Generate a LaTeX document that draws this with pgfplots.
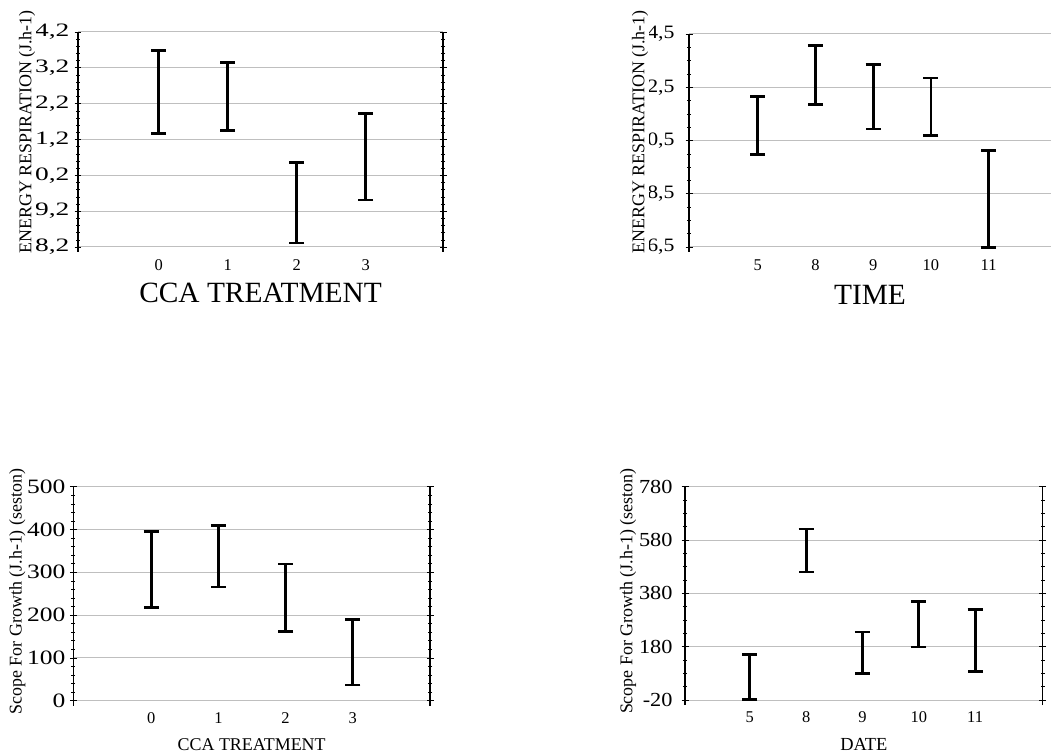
\documentclass[border=0pt]{standalone}
\usepackage{pgfplots}
\pgfplotsset{compat=1.18}
\usepackage{fontspec}
\setmainfont{Liberation Serif}

\pgfplotsset{
  panel/.style={
    scale only axis, clip=false,
    anchor=south west,
    axis line style={draw=none},
    xtick style={draw=none},
    ytick align=center,
    major tick length=7bp, minor tick length=4bp,
    every tick/.style={black, line width=0.8bp},
    minor tick style={black, line width=0.6bp},
    ymajorgrids,
    major grid style={gray!50, line width=1bp},
    xtick=data,
    every axis y label/.style={rotate=90, anchor=center, fill=white, inner sep=0.5bp},
  },
  ebar/.style={draw=none, mark=none,
    error bars/.cd, y dir=both, y explicit,
    error bar style={draw=black, solid, line width=2.8bp},
    error mark options={rotate=90, mark size=7.5bp, line width=2.8bp, draw=black, solid}},
}

\begin{document}
\begin{tikzpicture}
\path[use as bounding box] (0,0) rectangle (1052bp,753bp);

% ---------------- top left ----------------
\begin{axis}[panel,
  at={(78bp,506bp)}, width=365bp, height=215bp,
  xmin=-1.17, xmax=4.12, ymin=8.2, ymax=14.2,
  xticklabels={0,1,2,3},
  ytick={8.2,9.2,10.2,11.2,12.2,13.2,14.2},
  yticklabels={{8,2},{9,2},{10,2},{11,2},{12,2},{13,2},{14,2}},
  minor y tick num=4,
  yticklabel style={font=\fontsize{19}{21}\selectfont, xscale=1.45},
  xticklabel style={font=\fontsize{16.5}{18}\selectfont, anchor=center, yshift=-18bp},
  ylabel={ENERGY RESPIRATION (J.h-1)},
  ylabel style={at={([xshift=-51bp]axis description cs:0,0.535)}, font=\fontsize{18}{20}\selectfont},
  xlabel={CCA TREATMENT},
  xlabel style={at={([yshift=-46bp]axis description cs:0.5,0)}, anchor=center, font=\fontsize{29.5}{31}\selectfont},
]
\addplot[ebar] coordinates {
  (0,12.52) +- (0,1.16)
  (1,12.405) +- (0,0.945)
  (2,9.43) +- (0,1.12)
  (3,10.72) +- (0,1.21)
};
\draw[line width=1.2bp] ([yshift=-5bp]rel axis cs:0,0) -- (rel axis cs:0,1);
\draw[line width=1.2bp] ([yshift=-5bp]rel axis cs:1,0) -- (rel axis cs:1,1);
\end{axis}

% ---------------- top right ----------------
\begin{axis}[panel,
  at={(689bp,506bp)}, width=362bp, height=213bp,
  xmin=-1.19, xmax=5.08, ymin=6.5, ymax=14.5,
  xticklabels={5,8,9,10,11},
  ytick pos=left,
  ytick={6.5,8.5,10.5,12.5,14.5},
  yticklabels={{6,5},{8,5},{10,5},{12,5},{14,5}},
  minor y tick num=3,
  yticklabel style={font=\fontsize{19}{21}\selectfont, xscale=1.15, xshift=-6bp},
  xticklabel style={font=\fontsize{16.5}{18}\selectfont, anchor=center, yshift=-18bp},
  ylabel={ENERGY RESPIRATION (J.h-1)},
  ylabel style={at={([xshift=-49bp]axis description cs:0,0.54)}, font=\fontsize{18}{20}\selectfont},
  xlabel={TIME},
  xlabel style={at={([yshift=-48bp]axis description cs:0.5,0)}, anchor=center, font=\fontsize{29.5}{31}\selectfont},
]
\addplot[ebar] coordinates {
  (0,11.065) +- (0,1.085)
  (1,12.965) +- (0,1.105)
  (2,12.135) +- (0,1.205)
  (3,11.765) +- (0,1.085)
  (4,8.30) +- (0,1.82)
};
\draw[line width=1.2bp] ([yshift=-5bp]rel axis cs:0,0) -- (rel axis cs:0,1);
\end{axis}

% ---------------- bottom left ----------------
\begin{axis}[panel,
  at={(73.3bp,52.3bp)}, width=356.7bp, height=214bp,
  xmin=-1.16, xmax=4.15, ymin=0, ymax=500,
  xticklabels={0,1,2,3},
  ytick={0,100,200,300,400,500},
  yticklabels={0,100,200,300,400,500},
  minor y tick num=4,
  yticklabel style={font=\fontsize{20.5}{22}\selectfont, xscale=1.25},
  xticklabel style={font=\fontsize{16.5}{18}\selectfont, anchor=center, yshift=-17.5bp},
  ylabel={Scope For Growth (J.h-1) (seston)},
  ylabel style={at={([xshift=-56bp]axis description cs:0,0.51)}, font=\fontsize{18}{20}\selectfont},
  xlabel={CCA TREATMENT},
  xlabel style={at={([yshift=-44bp]axis description cs:0.5,0)}, anchor=center, font=\fontsize{18}{20}\selectfont},
]
\addplot[ebar] coordinates {
  (0,306.5) +- (0,88.4)
  (1,337.65) +- (0,72.05)
  (2,240.25) +- (0,79.05)
  (3,113.3) +- (0,76.7)
};
\draw[line width=1.2bp] ([yshift=-5bp]rel axis cs:0,0) -- (rel axis cs:0,1);
\draw[line width=1.2bp] ([yshift=-5bp]rel axis cs:1,0) -- (rel axis cs:1,1);
\end{axis}

% ---------------- bottom right ----------------
\begin{axis}[panel,
  at={(685bp,53bp)}, width=357.7bp, height=213.3bp,
  xmin=-1.15, xmax=5.2, ymin=-20, ymax=780,
  xticklabels={5,8,9,10,11},
  ytick={-20,180,380,580,780},
  yticklabels={-20,180,380,580,780},
  minor y tick num=3,
  yticklabel style={font=\fontsize{20}{22}\selectfont, xshift=-5bp, xscale=1.12},
  xticklabel style={font=\fontsize{16.5}{18}\selectfont, anchor=center, yshift=-17.5bp},
  ylabel={Scope For Growth (J.h-1) (seston)},
  ylabel style={at={([xshift=-57bp]axis description cs:0,0.51)}, font=\fontsize{18}{20}\selectfont},
  xlabel={DATE},
  xlabel style={at={([yshift=-44bp]axis description cs:0.5,0)}, anchor=center, font=\fontsize{18.5}{20}\selectfont},
]
\addplot[ebar] coordinates {
  (0,66.9) +- (0,84.4)
  (1,540.65) +- (0,80.65)
  (2,157.5) +- (0,77.5)
  (3,264.4) +- (0,85.6)
  (4,203.75) +- (0,116.25)
};
\draw[line width=1.2bp] ([yshift=-5bp]rel axis cs:0,0) -- (rel axis cs:0,1);
\draw[line width=1.2bp] ([yshift=-5bp]rel axis cs:1,0) -- (rel axis cs:1,1);
\end{axis}
\end{tikzpicture}
\end{document}
